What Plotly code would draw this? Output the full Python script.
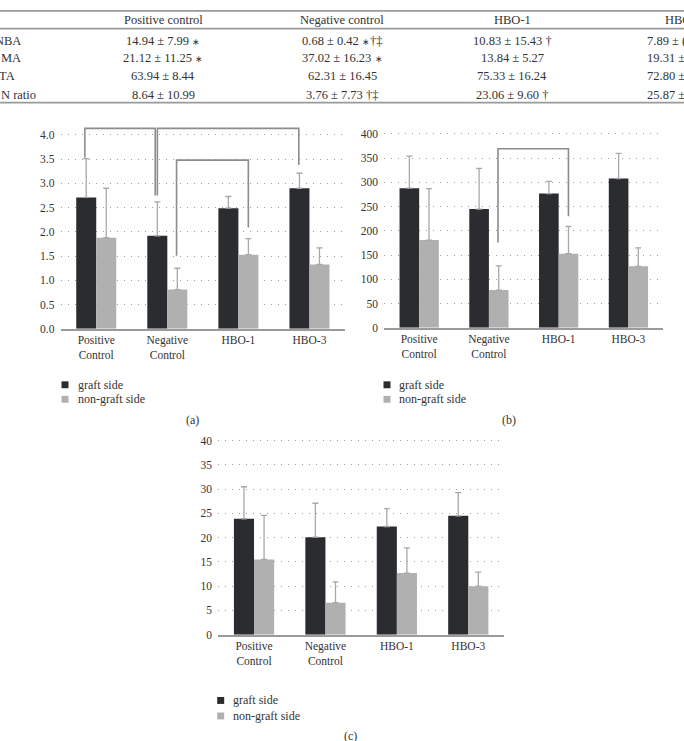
import plotly.graph_objects as go

W, H = 684, 741

# ---------------- data ----------------
categories = ["Positive<br>Control", "Negative<br>Control", "HBO-1", "HBO-3"]
series_names = ["graft side", "non-graft side"]

a_graft = [2.71, 1.92, 2.49, 2.90]
a_graft_err = [3.51, 2.62, 2.73, 3.21]
a_non = [1.88, 0.81, 1.53, 1.33]
a_non_err = [2.90, 1.25, 1.86, 1.67]

b_graft = [288, 245, 277, 308]
b_graft_err = [354, 329, 302, 360]
b_non = [181, 78, 153, 127]
b_non_err = [287, 128, 209, 165]

c_graft = [23.9, 20.1, 22.3, 24.5]
c_graft_err = [30.5, 27.1, 26.0, 29.3]
c_non = [15.5, 6.6, 12.7, 10.0]
c_non_err = [24.6, 10.9, 17.9, 12.9]

# significance brackets: (x_left, y_left_end, x_right, y_right_end, y_top)
a_brackets = [(-0.16, 3.53, 0.83, 2.75, 4.135),
              (0.86, 2.75, 2.85, 3.38, 4.135),
              (1.13, 1.51, 2.14, 2.09, 3.48)]
b_brackets = [(1.13, 176, 2.14, 230, 369.5)]

STAR = "<span style='font-size:9px'>∗</span>"
table_header = ["Positive control", "Negative control", "HBO-1"]
table_rows = ["NBA", "MA", "TA", "N ratio"]
table_cells = [
    ["14.94 ± 7.99 " + STAR, "0.68 ± 0.42 " + STAR + "†‡", "10.83 ± 15.43 †"],
    ["21.12 ± 11.25 " + STAR, "37.02 ± 16.23 " + STAR, "13.84 ± 5.27"],
    ["63.94 ± 8.44", "62.31 ± 16.45", "75.33 ± 16.24"],
    ["8.64 ± 10.99", "3.76 ± 7.73 †‡", "23.06 ± 9.60 †"],
]
table_cut_header = "HBO"
table_cut_cells = ["7.89 ± (", "19.31 ±", "72.80 ±", "25.87 ±"]

# ---------------- styling ----------------
FONT = "Liberation Serif"
DARK = "#2b2c30"
LIGHT = "#b0b0b0"
ERRC = "#a8a8a8"
BRC = "#8c8c8c"
TXT = "#333333"


def fx(px):
    return px / W


def fy(py):
    return 1 - py / H


fig = go.Figure()

panels = [
    ("", a_graft, a_graft_err, a_non, a_non_err, (60.7, 345), (122.9, 329.3), [0, 4.2], 0.5, ".1f"),
    ("2", b_graft, b_graft_err, b_non, b_non_err, (384.3, 663.3), (129.2, 328.3), [0, 405], 50, "d"),
    ("3", c_graft, c_graft_err, c_non, c_non_err, (218.3, 504), (440.2, 639.3), [0, 40.5], 5, "d"),
]

xs = list(range(len(categories)))
for suf, g, ge, n, ne, xp, yp, yr, dt, fmt in panels:
    xa = "x" + suf
    ya = "y" + suf
    for vals, tops, col, name, og in [(g, ge, DARK, series_names[0], "g"),
                                      (n, ne, LIGHT, series_names[1], "n")]:
        fig.add_trace(go.Bar(
            x=xs, y=vals, name=name, marker=dict(color=col, line=dict(width=0)),
            offsetgroup=og, xaxis=xa, yaxis=ya, showlegend=False,
            error_y=dict(type="data", symmetric=False,
                         array=[t - v for t, v in zip(tops, vals)],
                         arrayminus=[0] * len(vals),
                         color=ERRC, thickness=1.3, width=3),
        ))
    lay_x = "xaxis" + suf
    lay_y = "yaxis" + suf
    fig.layout[lay_x] = dict(
        domain=[fx(xp[0]), fx(xp[1])], anchor=ya, range=[-0.5, 3.5],
        tickvals=xs, ticktext=categories, showgrid=False, zeroline=False,
        showline=True, linecolor="#9a9a9a", linewidth=1.5, ticks="",
        tickfont=dict(family=FONT, size=11.5, color=TXT), fixedrange=True,
    )
    fig.layout[lay_y] = dict(
        domain=[fy(yp[1]), fy(yp[0])], anchor=xa, range=yr,
        tickmode="linear", tick0=0, dtick=dt, tickformat=fmt,
        showgrid=True, gridcolor="#a0a0a0", gridwidth=1, griddash="1px,6px",
        zeroline=False, showline=False, ticks="outside", ticklen=3,
        tickcolor="rgba(0,0,0,0)",
        tickfont=dict(family=FONT, size=11.5, color=TXT), fixedrange=True,
    )

fig.update_layout(barmode="group", bargap=0.437, bargroupgap=0)

shapes = []
for suf, brs in [("", a_brackets), ("2", b_brackets)]:
    for x1, y1, x2, y2, yt in brs:
        fig.add_trace(go.Scatter(
            x=[x1, x1, x2, x2], y=[y1, yt, yt, y2], mode="lines",
            line=dict(color=BRC, width=1.6), xaxis="x" + suf, yaxis="y" + suf,
            showlegend=False, hoverinfo="skip", cliponaxis=False,
        ))

annotations = []

for sqx, txtx, y1, y2, cap, capx, capy in [
    (65, 76, 386, 400.7, "(a)", 192.7, 422),
    (387, 396.7, 386, 400.7, "(b)", 509, 422),
    (220.7, 230.7, 706, 721.7, "(c)", 350, 742),
]:
    for yy, col, name in [(y1, DARK, series_names[0]), (y2, LIGHT, series_names[1])]:
        shapes.append(dict(type="rect", xref="paper", yref="paper",
                           x0=fx(sqx - 3.5), x1=fx(sqx + 3.5),
                           y0=fy(yy + 3.5), y1=fy(yy - 3.5),
                           fillcolor=col, line=dict(width=0)))
        annotations.append(dict(text=name, x=fx(txtx), y=fy(yy), xref="paper", yref="paper",
                                xanchor="left", yanchor="middle", showarrow=False,
                                font=dict(family=FONT, size=12, color=TXT)))
    annotations.append(dict(text=cap, x=fx(capx), y=fy(capy), xref="paper", yref="paper",
                            xanchor="center", yanchor="middle", showarrow=False,
                            font=dict(family=FONT, size=12, color=TXT)))

for ly in (7, 25, 100):
    shapes.append(dict(type="line", xref="paper", yref="paper", x0=0, x1=1,
                       y0=fy(ly), y1=fy(ly), line=dict(color="#9a9a9a", width=1.6)))

col_x = [163, 342, 512]
row_y = [37, 55, 73, 92]
tfont = dict(family=FONT, size=12.5, color=TXT)
for cx, h in zip(col_x, table_header):
    annotations.append(dict(text=h, x=fx(cx), y=fy(16), xref="paper", yref="paper",
                            xanchor="center", yanchor="middle", showarrow=False, font=tfont))
annotations.append(dict(text=table_cut_header, x=fx(663), y=fy(16), xref="paper", yref="paper",
                        xanchor="left", yanchor="middle", showarrow=False, font=tfont))
label_shift = [-7, -1, -3, -1]
for ry, lab, cells, cut, sh in zip(row_y, table_rows, table_cells, table_cut_cells, label_shift):
    annotations.append(dict(text=lab, x=0, y=fy(ry), xref="paper", yref="paper", xshift=sh,
                            xanchor="left", yanchor="middle", showarrow=False, font=tfont))
    for cx, c in zip(col_x, cells):
        annotations.append(dict(text=c, x=fx(cx), y=fy(ry), xref="paper", yref="paper",
                                xanchor="center", yanchor="middle", showarrow=False, font=tfont))
    annotations.append(dict(text=cut, x=fx(645), y=fy(ry), xref="paper", yref="paper",
                            xanchor="left", yanchor="middle", showarrow=False, font=tfont))

fig.update_layout(
    width=W, height=H, margin=dict(l=0, r=0, t=0, b=0),
    paper_bgcolor="white", plot_bgcolor="white",
    shapes=shapes, annotations=annotations, showlegend=False,
)

fig.write_html("out.html")
